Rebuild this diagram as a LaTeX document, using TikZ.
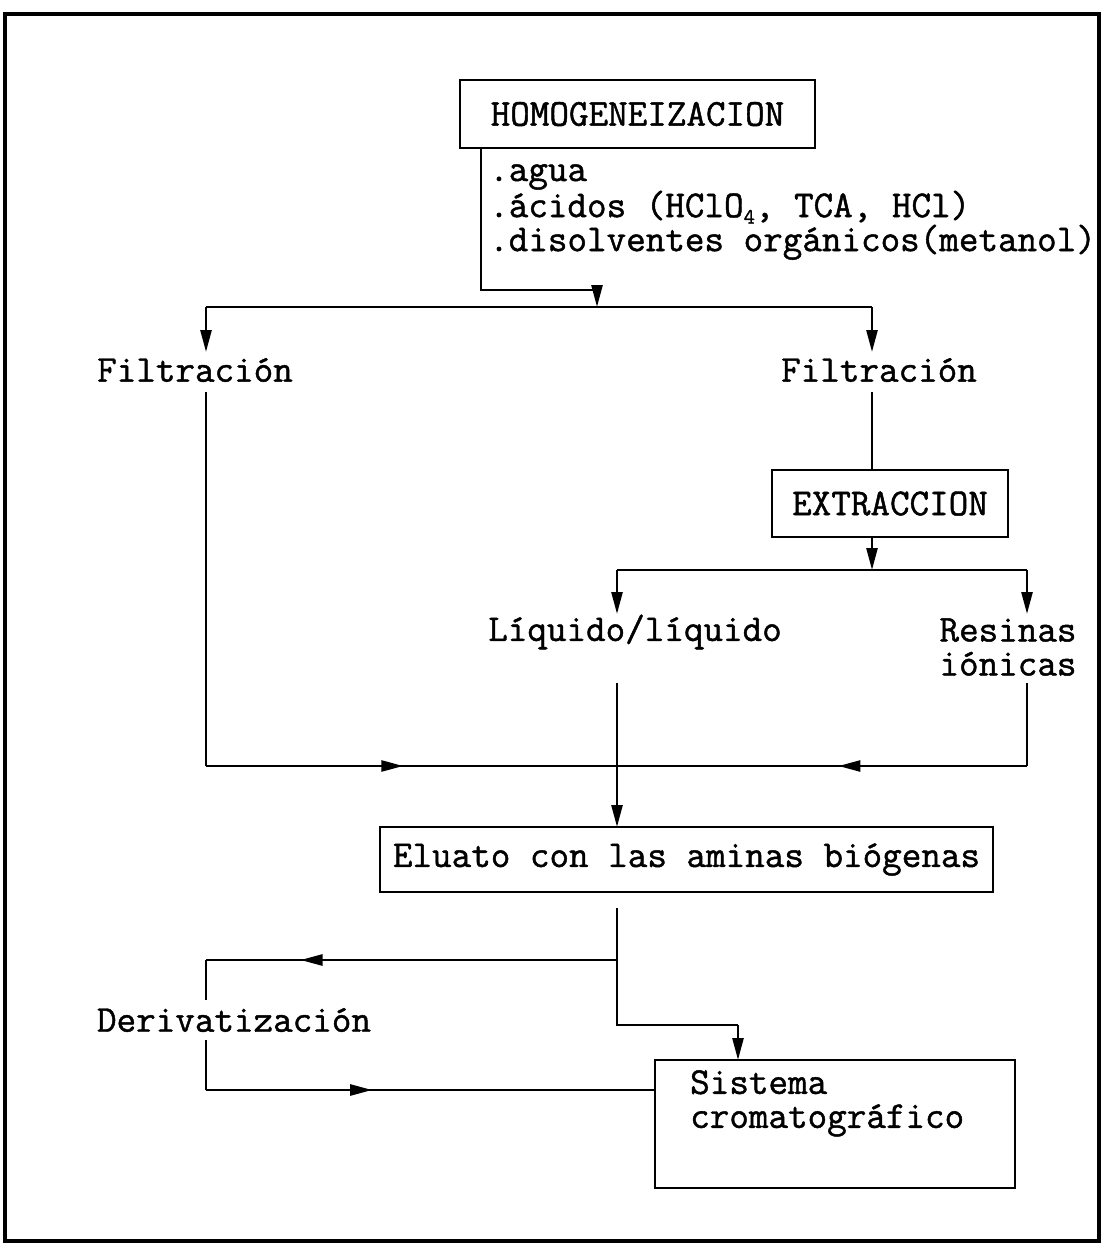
\documentclass[tikz,border=0pt]{standalone}
\usepackage{fontspec}
\newfontfamily\labfam[FakeBold=1.2]{Latin Modern Mono}
\usetikzlibrary{arrows.meta,decorations.markings}
\newcommand{\labfont}{\labfam\fontsize{38}{34}\selectfont}
\tikzset{
  ln/.style={line width=2.6pt},
  box/.style={draw, line width=2.6pt, inner sep=0pt, font=\labfont},
  lbl/.style={inner sep=0pt, font=\labfont},
  arr/.style={-{Triangle[length=22pt,width=11pt]}},
  midarr/.style={postaction=decorate, decoration={markings, mark=at position #1 with {\arrow{Triangle[length=22pt,width=11pt]}}}}
}
\begin{document}
\begin{tikzpicture}[x=1pt,y=-1pt]
\useasboundingbox (0,0) rectangle (1102,1252);
\fill[white] (0,0) rectangle (1102,1252);
\draw[line width=3.5pt] (5,14) rectangle (1099,1241);

% nodes
\node[box, minimum width=355pt, minimum height=68pt] (homo) at (637.5,114) {HOMOGENEIZACION};
\node[lbl, anchor=north west, align=left] (reag) at (489,164) {.agua\\.ácidos (HClO\raisebox{-0.4ex}{\fontsize{22}{22}\selectfont 4}, TCA, HCl)\\.disolventes orgánicos(metanol)};
\node[lbl] (filL) at (195,370) {Filtración};
\node[lbl] (filR) at (879,370) {Filtración};
\node[box, minimum width=236pt, minimum height=67pt] (extr) at (890,503.5) {EXTRACCION};
\node[lbl] (liq) at (635,632) {Líquido/líquido};
\node[lbl, align=left] (res) at (1008,647) {Resinas\\iónicas};
\node[box, minimum width=613pt, minimum height=65pt] (elu) at (686.5,859.5) {Eluato con las aminas biógenas};
\node[lbl] (deriv) at (234,1020) {Derivatización};
\node[box, minimum width=360pt, minimum height=128pt] (sis) at (835,1124) {};
\node[lbl, anchor=north west, align=left] (sistxt) at (690,1070) {Sistema\\cromatográfico};

% coordinates
\coordinate (h1) at (481,148);
\coordinate (h2) at (481,290);
\coordinate (h3) at (597,290);
\coordinate (s0) at (597,307);
\coordinate (sL) at (206,307);
\coordinate (sR) at (872,307);
\coordinate (fL1) at (206,352);
\coordinate (fR1) at (872,352);
\coordinate (fL2) at (206,392);
\coordinate (fR2) at (872,392);
\coordinate (cL) at (206,766);
\coordinate (jn) at (617,766);
\coordinate (e0) at (872,537);
\coordinate (e1) at (872,570);
\coordinate (eL) at (617,570);
\coordinate (eR) at (1027,570);
\coordinate (lq1) at (617,614);
\coordinate (rs1) at (1027,614);
\coordinate (lq2) at (617,683);
\coordinate (rs2) at (1027,683);
\coordinate (rs3) at (1027,766);
\coordinate (lq3) at (617,827);
\coordinate (u0) at (617,908);
\coordinate (u1) at (617,960);
\coordinate (u2) at (617,1025);
\coordinate (u3) at (738,1025);
\coordinate (u4) at (738,1060);
\coordinate (d1) at (206,960);
\coordinate (d2) at (206,1000);
\coordinate (d3) at (206,1040);
\coordinate (d4) at (206,1090);
\coordinate (d5) at (655,1090);

% connectors
\draw[ln] (h1) -- (h2) -- (h3);
\draw[ln, arr] (h3) -- (s0);
\draw[ln] (sL) -- (sR);
\draw[ln, arr] (sL) -- (fL1);
\draw[ln, arr] (sR) -- (fR1);
\draw[ln] (fL2) -- (cL);
\draw[ln, midarr=0.48] (cL) -- (jn);
\draw[ln] (fR2) -- (extr.north -| fR2);
\draw[ln, arr] (e0) -- (e1);
\draw[ln] (eL) -- (eR);
\draw[ln, arr] (eL) -- (lq1);
\draw[ln, arr] (eR) -- (rs1);
\draw[ln, arr] (lq2) -- (lq3);
\draw[ln] (rs2) -- (rs3);
\draw[ln, midarr=0.46] (rs3) -- (jn);
\draw[ln] (u0) -- (u2) -- (u3);
\draw[ln, arr] (u3) -- (u4);
\draw[ln, midarr=0.77] (u1) -- (d1);
\draw[ln] (d1) -- (d2);
\draw[ln] (d3) -- (d4);
\draw[ln, midarr=0.37] (d4) -- (d5);
\end{tikzpicture}
\end{document}
